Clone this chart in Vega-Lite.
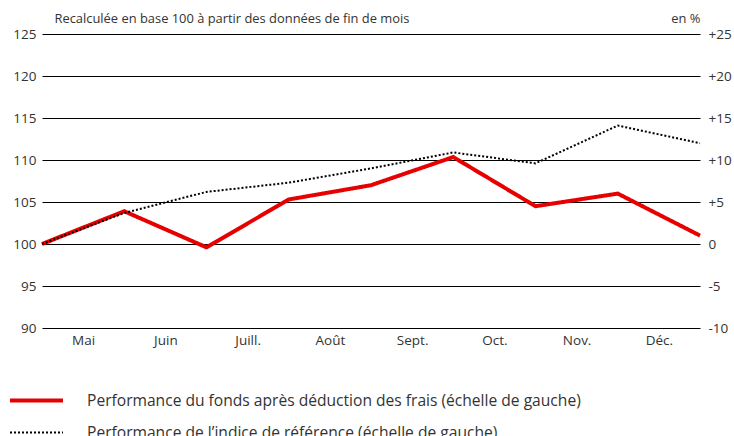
{
  "$schema": "https://vega.github.io/schema/vega-lite/v6.json",
  "width": 658,
  "height": 294,
  "autosize": {"type": "none"},
  "padding": {"left": 42, "top": 34, "right": 34, "bottom": 108},
  "background": "white",
  "config": {
    "view": {"stroke": null},
    "font": "Open Sans",
    "axis": {"labelFont": "Open Sans", "titleFont": "Open Sans", "labelColor": "#333", "titleColor": "#333", "labelFontSize": 13.5, "titleFontSize": 12.9, "titleFontWeight": "normal", "ticks": false, "domain": false},
    "legend": {"labelFont": "Open Sans", "labelFontSize": 15.6, "labelColor": "#333"}
  },
  "data": {"values": [
    {"i": 0, "series": "Performance du fonds après déduction des frais (échelle de gauche)", "value": 100},
    {"i": 1, "series": "Performance du fonds après déduction des frais (échelle de gauche)", "value": 103.9},
    {"i": 2, "series": "Performance du fonds après déduction des frais (échelle de gauche)", "value": 99.6},
    {"i": 3, "series": "Performance du fonds après déduction des frais (échelle de gauche)", "value": 105.3},
    {"i": 4, "series": "Performance du fonds après déduction des frais (échelle de gauche)", "value": 107.0},
    {"i": 5, "series": "Performance du fonds après déduction des frais (échelle de gauche)", "value": 110.35},
    {"i": 6, "series": "Performance du fonds après déduction des frais (échelle de gauche)", "value": 104.5},
    {"i": 7, "series": "Performance du fonds après déduction des frais (échelle de gauche)", "value": 106.0},
    {"i": 8, "series": "Performance du fonds après déduction des frais (échelle de gauche)", "value": 101.0},
    {"i": 0, "series": "Performance de l’indice de référence (échelle de gauche)", "value": 100},
    {"i": 1, "series": "Performance de l’indice de référence (échelle de gauche)", "value": 103.7},
    {"i": 2, "series": "Performance de l’indice de référence (échelle de gauche)", "value": 106.2},
    {"i": 3, "series": "Performance de l’indice de référence (échelle de gauche)", "value": 107.3},
    {"i": 4, "series": "Performance de l’indice de référence (échelle de gauche)", "value": 109.0},
    {"i": 5, "series": "Performance de l’indice de référence (échelle de gauche)", "value": 110.9},
    {"i": 6, "series": "Performance de l’indice de référence (échelle de gauche)", "value": 109.6},
    {"i": 7, "series": "Performance de l’indice de référence (échelle de gauche)", "value": 114.1},
    {"i": 8, "series": "Performance de l’indice de référence (échelle de gauche)", "value": 112.0}
  ]},
  "layer": [
    {
      "mark": {"type": "line", "strokeJoin": "miter"},
      "encoding": {
        "x": {"field": "i", "type": "quantitative", "scale": {"domain": [0, 8], "nice": false, "zero": false},
          "axis": {"values": [0.5, 1.5, 2.5, 3.5, 4.5, 5.5, 6.5, 7.5], "labelExpr": "['Mai','Juin','Juill.','Août','Sept.','Oct.','Nov.','Déc.'][floor(datum.value)]", "grid": false, "title": null, "labelPadding": 5}},
        "y": {"field": "value", "type": "quantitative", "scale": {"domain": [90, 125], "nice": false, "zero": false},
          "axis": {"orient": "left", "values": [90, 95, 100, 105, 110, 115, 120, 125], "grid": true, "gridColor": "#000", "gridOpacity": 1, "gridWidth": 1, "labelPadding": 6, "title": "Recalculée en base 100 à partir des données de fin de mois", "titleAngle": 0, "titleAlign": "left", "titleBaseline": "alphabetic", "titleX": 12, "titleY": -12}},
        "color": {"field": "series", "type": "nominal", "sort": null,
          "scale": {"domain": ["Performance du fonds après déduction des frais (échelle de gauche)", "Performance de l’indice de référence (échelle de gauche)"], "range": ["#e60000", "#000000"]},
          "legend": {"title": null, "orient": "none", "legendX": -21, "legendY": 351, "symbolType": "M-2,0L2,0", "symbolSize": 702, "labelOffset": 35, "rowPadding": 8, "labelLimit": 700}},
        "strokeDash": {"field": "series", "type": "nominal",
          "scale": {"domain": ["Performance du fonds après déduction des frais (échelle de gauche)", "Performance de l’indice de référence (échelle de gauche)"], "range": [[1, 0], [2, 2]]}},
        "strokeWidth": {"field": "series", "type": "nominal",
          "scale": {"domain": ["Performance du fonds après déduction des frais (échelle de gauche)", "Performance de l’indice de référence (échelle de gauche)"], "range": [4, 2]}}
      }
    },
    {
      "mark": {"type": "line", "opacity": 0},
      "encoding": {
        "x": {"field": "i", "type": "quantitative", "scale": {"domain": [0, 8], "nice": false, "zero": false}},
        "y": {"field": "value", "type": "quantitative", "scale": {"domain": [90, 125], "nice": false, "zero": false},
          "axis": {"orient": "right", "values": [90, 95, 100, 105, 110, 115, 120, 125], "grid": false, "labelPadding": 8, "labelExpr": "datum.value > 100 ? '+' + (datum.value - 100) : '' + (datum.value - 100)", "title": "en %", "titleAngle": 0, "titleAlign": "right", "titleBaseline": "alphabetic", "titleX": 0, "titleY": -12}},
        "detail": {"field": "series"}
      }
    }
  ],
  "resolve": {"scale": {"y": "independent"}}
}
